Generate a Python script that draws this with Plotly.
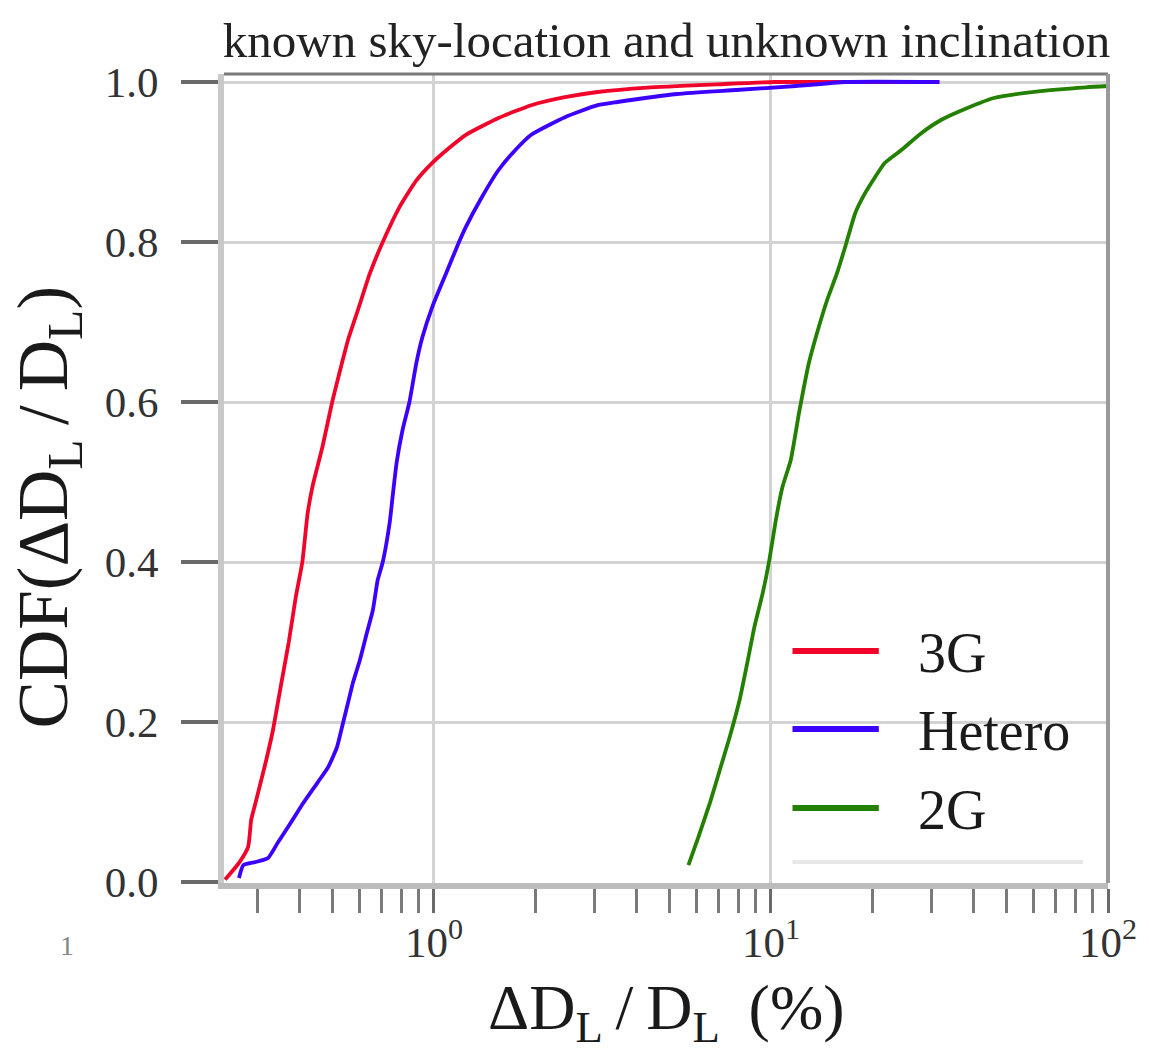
import math
import plotly.graph_objects as go

# ---------------- data ----------------
series_names = ["3G", "Hetero", "2G"]
series_colors = ["#f0042a", "#3b00ff", "#238000"]

red_x = [0.240, 0.264, 0.281, 0.287, 0.296, 0.317, 0.333, 0.351, 0.371, 0.389, 0.407, 0.422,
         0.436, 0.467, 0.499, 0.527, 0.556, 0.595, 0.646, 0.705, 0.791, 0.887, 0.989, 1.109,
         1.244, 1.555, 1.944, 2.447, 3.06, 4.30, 6.89, 10.3, 31.6]
red_y = [0.003, 0.024, 0.044, 0.078, 0.10, 0.15, 0.19, 0.244, 0.30, 0.356, 0.40, 0.461,
         0.494, 0.544, 0.60, 0.64, 0.6775, 0.715, 0.761, 0.80, 0.844, 0.877, 0.899, 0.9175,
         0.934, 0.955, 0.971, 0.981, 0.9875, 0.993, 0.997, 1.0, 1.0]

blue_x = [0.264, 0.272, 0.296, 0.322, 0.344, 0.376, 0.410, 0.451, 0.486, 0.516, 0.534, 0.556,
          0.575, 0.603, 0.632, 0.659, 0.681, 0.705, 0.739, 0.754, 0.775, 0.807, 0.846, 0.887,
          0.924, 0.989, 1.087, 1.187, 1.244, 1.387, 1.555, 1.745, 1.944, 2.447, 3.06, 3.50,
          5.26, 7.89, 11.85, 16.6, 31.6]
blue_y = [0.005, 0.021, 0.025, 0.030, 0.049, 0.074, 0.099, 0.124, 0.144, 0.169, 0.194, 0.224,
          0.249, 0.2775, 0.311, 0.34, 0.3775, 0.40, 0.449, 0.4815, 0.524, 0.565, 0.60, 0.649,
          0.681, 0.719, 0.761, 0.80, 0.819, 0.856, 0.89, 0.915, 0.934, 0.956, 0.971, 0.975,
          0.985, 0.99, 0.995, 1.0, 1.0]

green_x = [5.69, 6.09, 6.59, 7.05, 7.54, 8.07, 8.54, 8.93, 9.45, 9.89, 10.34, 10.82, 11.45,
           12.11, 12.96, 13.87, 14.68, 15.70, 16.61, 17.78, 19.02, 20.36, 21.78, 24.38, 27.91,
           31.96, 38.25, 45.85, 61.3, 86.0, 100.0]
green_y = [0.021, 0.056, 0.099, 0.14, 0.181, 0.2275, 0.2775, 0.319, 0.361, 0.4025, 0.4525,
           0.494, 0.5275, 0.586, 0.649, 0.694, 0.7275, 0.761, 0.794, 0.836, 0.861, 0.881,
           0.899, 0.915, 0.936, 0.9525, 0.9675, 0.98, 0.988, 0.9934, 0.995]

x_major_vals = [1, 10, 100]
x_major_text = ["10<sup>0</sup>", "10<sup>1</sup>", "10<sup>2</sup>"]
y_tick_vals = [0.0, 0.2, 0.4, 0.6, 0.8, 1.0]
y_tick_text = ["0.0", "0.2", "0.4", "0.6", "0.8", "1.0"]

title_text = "known sky-location and unknown inclination"
x_title = "ΔD<sub>L</sub>\u2009/\u2009D<sub>L</sub> \u2009(%)"
y_title = "CDF(ΔD<sub>L</sub>\u2009/\u2009D<sub>L</sub>)"

# ---------------- layout geometry (pixels) ----------------
W, H = 1149, 1055
L, R, T, B = 224, 1115, 74, 883
PW, PH = R - L, B - T

def px(xp):
    return (xp - L) / PW

def py(yp):
    return (B - yp) / PH

FONT = "Liberation Serif"

minor_vals = [k * 10.0 ** e for e in (-1, 0, 1) for k in range(2, 10)]
minor_vals = [v for v in minor_vals if 0.24 <= v <= 100]

fig = go.Figure()
for xs, ys, name, col in zip([red_x, blue_x, green_x], [red_y, blue_y, green_y],
                             series_names, series_colors):
    fig.add_trace(go.Scatter(x=xs, y=ys, mode="lines", name=name,
                             line=dict(color=col, width=3.8, shape="spline", smoothing=0.5),
                             showlegend=False))

shapes = []
# legend background + faint bottom edge
shapes.append(dict(type="rect", xref="paper", yref="paper", x0=px(797), x1=px(1090),
                   y0=py(862), y1=py(610), fillcolor="white", line=dict(width=0),
                   layer="between"))
shapes.append(dict(type="line", xref="paper", yref="paper", x0=px(797), x1=px(1090),
                   y0=py(862), y1=py(862), line=dict(color="#e8e8e8", width=4),
                   layer="between"))
# frame: top and right borders
shapes.append(dict(type="line", xref="paper", yref="paper", x0=0, x1=1, y0=1, y1=1,
                   line=dict(color="#7a7a7a", width=3)))
shapes.append(dict(type="line", xref="paper", yref="paper", x0=1, x1=1, y0=0, y1=1,
                   line=dict(color="#9a9a9a", width=4)))

annotations = []
legend_rows = [651, 729, 808]
for name, col, yrow in zip(series_names, series_colors, legend_rows):
    shapes.append(dict(type="line", xref="paper", yref="paper", x0=px(797), x1=px(884),
                       y0=py(yrow), y1=py(yrow), line=dict(color=col, width=6)))
    annotations.append(dict(text=name, xref="paper", yref="paper", x=px(921), y=py(yrow + 2),
                            xanchor="left", yanchor="middle", showarrow=False,
                            font=dict(family=FONT, size=56, color="#1a1a1a")))

# axis titles
annotations.append(dict(text=x_title, xref="paper", yref="paper", x=px(670), y=py(1012),
                        xanchor="center", yanchor="middle", showarrow=False,
                        font=dict(family=FONT, size=64, color="#1a1a1a")))
annotations.append(dict(text=y_title, xref="paper", yref="paper", x=px(48), y=py(507),
                        xanchor="center", yanchor="middle", showarrow=False, textangle=-90,
                        font=dict(family=FONT, size=71, color="#1a1a1a")))
# clipped leftover tick label at far left
annotations.append(dict(text="1", xref="paper", yref="paper", x=px(66), y=py(946),
                        xanchor="center", yanchor="middle", showarrow=False,
                        font=dict(family=FONT, size=28, color="#888888")))

fig.update_layout(
    width=W, height=H,
    margin=dict(l=L, r=W - R, t=T, b=H - B, pad=0),
    paper_bgcolor="white", plot_bgcolor="white",
    font=dict(family=FONT),
    title=dict(text=title_text, x=px(670), xanchor="center", xref="paper",
               y=1 - 40 / H, yref="container", yanchor="middle",
               font=dict(family=FONT, size=49, color="#222222")),
    shapes=shapes, annotations=annotations,
    showlegend=False,
)

fig.update_xaxes(
    type="log", range=[math.log10(0.2383), 2.0],
    tickmode="array", tickvals=x_major_vals, ticktext=x_major_text,
    ticks="outside", ticklen=24, tickwidth=3, tickcolor="#6a6a6a",
    ticklabelstandoff=-8,
    tickfont=dict(family=FONT, size=43, color="#333333"),
    showgrid=True, gridcolor="#d3d3d3", gridwidth=3,
    showline=True, linecolor="#bcbcbc", linewidth=6,
    zeroline=False,
    minor=dict(tickmode="array", tickvals=minor_vals, ticks="outside", ticklen=24,
               tickwidth=3, tickcolor="#7a7a7a", showgrid=False),
)
fig.update_yaxes(
    range=[-0.00125, 1.01],
    tickmode="array", tickvals=y_tick_vals, ticktext=y_tick_text,
    ticks="outside", ticklen=37, tickwidth=4, tickcolor="#6a6a6a",
    ticklabelstandoff=14,
    tickfont=dict(family=FONT, size=43, color="#333333"),
    showgrid=True, gridcolor="#d3d3d3", gridwidth=3,
    showline=True, linecolor="#c8c8c8", linewidth=6,
    zeroline=False,
)

fig.write_html("out.html")
